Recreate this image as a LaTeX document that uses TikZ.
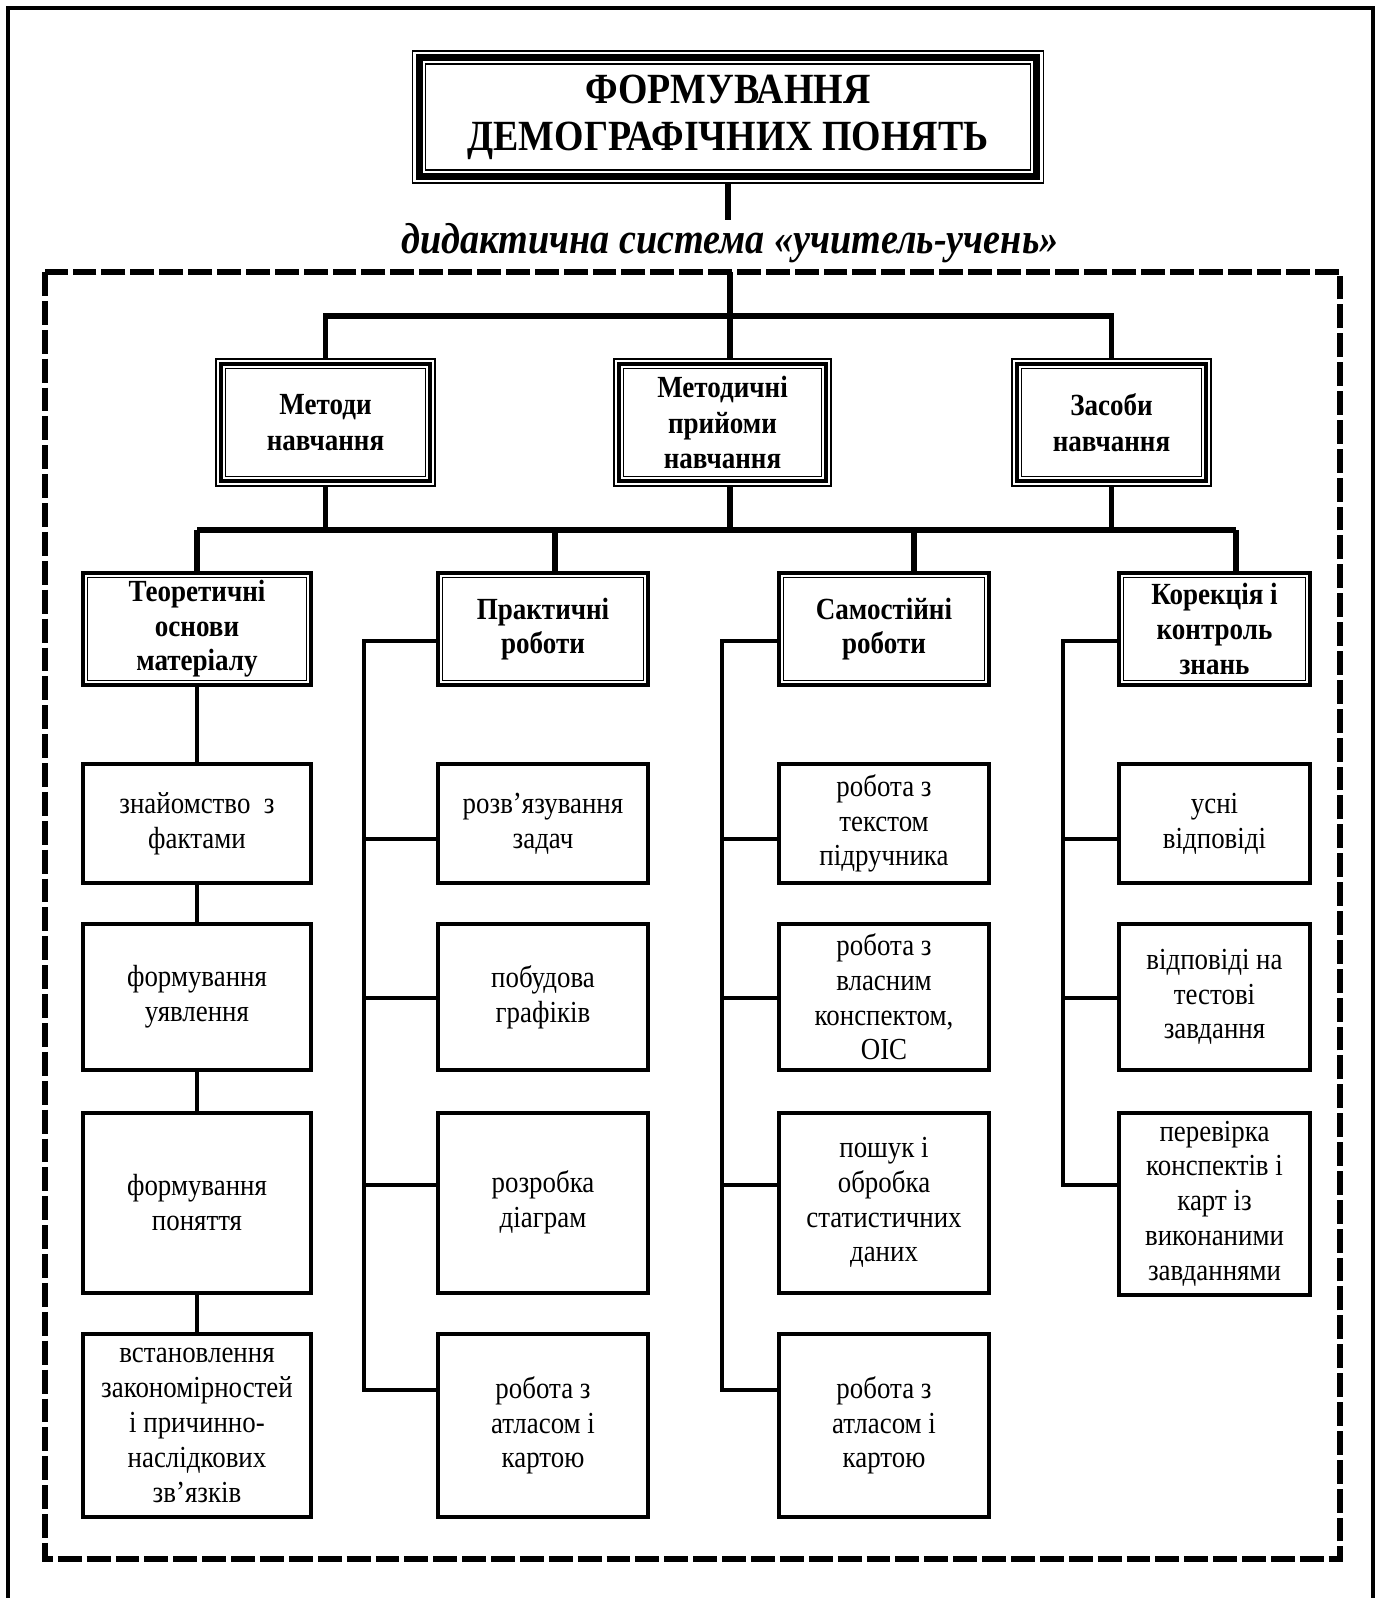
\documentclass[tikz,border=0pt]{standalone}
\usepackage{fontspec}
\setmainfont{Liberation Serif}[FakeStretch=0.88]
\usepackage{tikz}
\usetikzlibrary{calc,backgrounds}
\newcommand{\dpx}{0.02cm}
\tikzstyle{dem}=[
  x=0.02cm, y=-0.02cm
]
\tikzstyle{demnode}=[
  draw, rectangle, inner sep=0pt, align=center
]
\tikzstyle{demtitle}=[
  demnode, line width=0.85pt, font=\fontsize{24.5}{26.6}\selectfont\bfseries,
  path picture={
    \draw[line width=3.97pt] ([shift={(3.97pt,-3.97pt)}]path picture bounding box.north west)
      rectangle ([shift={(-3.97pt,3.97pt)}]path picture bounding box.south east);
    \draw[line width=0.85pt] ([shift={(7.4pt,-7.4pt)}]path picture bounding box.north west)
      rectangle ([shift={(-7.4pt,7.4pt)}]path picture bounding box.south east);
  }
]
\tikzstyle{demhead}=[
  demnode, line width=0.85pt, font=\fontsize{17.5}{20.4}\selectfont\bfseries,
  path picture={
    \draw[line width=2.27pt] ([shift={(2.84pt,-2.84pt)}]path picture bounding box.north west)
      rectangle ([shift={(-2.84pt,2.84pt)}]path picture bounding box.south east);
    \draw[line width=0.85pt] ([shift={(5.4pt,-5.4pt)}]path picture bounding box.north west)
      rectangle ([shift={(-5.4pt,5.4pt)}]path picture bounding box.south east);
  }
]
\tikzstyle{demgroup}=[
  demnode, line width=2pt, font=\fontsize{17.5}{19.7}\selectfont\bfseries,
  path picture={
    \draw[line width=0.4pt] ([shift={(2.5pt,-2.5pt)}]path picture bounding box.north west)
      rectangle ([shift={(-2.5pt,2.5pt)}]path picture bounding box.south east);
  }
]
\tikzstyle{demleaf}=[
  demnode, line width=2.27pt, font=\fontsize{17.4}{19.8}\selectfont
]
\tikzstyle{demedge}=[
  line width=2.9pt
]
\tikzstyle{demline}=[
  line width=2.27pt
]
\tikzstyle{demframe}=[
  line width=3.4pt, dash pattern=on 13.6pt off 2.84pt
]

\begin{document}
\begin{tikzpicture}[dem]
\useasboundingbox (0,0) rectangle (1381,1598);
\draw[line width=2.27pt] (8,1610) -- (8,8) -- (1373,8) -- (1373,1610);
\draw[demframe] (45,272) rectangle (1340,1559);

\node (ttl) [demtitle, minimum width=631*\dpx, minimum height=132*\dpx] at (728,117)
  {ФОРМУВАННЯ\\ДЕМОГРАФІЧНИХ ПОНЯТЬ};
\node (sys) [font=\fontsize{24.7}{30}\selectfont\bfseries\itshape] at (730,243)
  {дидактична система «учитель-учень»};

\node (mtd) [demhead, minimum width=219*\dpx, minimum height=127*\dpx] at (325.5,422.5)
  {Методи\\навчання};
\node (mpr) [demhead, minimum width=217*\dpx, minimum height=127*\dpx] at (722.5,422.5)
  {Методичні\\прийоми\\навчання};
\node (zas) [demhead, minimum width=199*\dpx, minimum height=127*\dpx] at (1111.5,422.5)
  {Засоби\\навчання};

\node (teo) [demgroup, minimum width=228*\dpx, minimum height=112*\dpx] at (197,629)
  {Теоретичні\\основи\\матеріалу};
\node (pra) [demgroup, minimum width=210*\dpx, minimum height=112*\dpx] at (543,629)
  {Практичні\\роботи};
\node (sam) [demgroup, minimum width=210*\dpx, minimum height=112*\dpx] at (884,629)
  {Самостійні\\роботи};
\node (kor) [demgroup, minimum width=191*\dpx, minimum height=112*\dpx] at (1214.5,629)
  {Корекція і\\контроль\\знань};

% theory column
\node (te1) [demleaf, minimum width=228*\dpx, minimum height=119*\dpx] at ($(teo) + (0,194.5)$)
  {знайомство~~з\\фактами};
\node (te2) [demleaf, minimum width=228*\dpx, minimum height=146*\dpx] at ($(teo) + (0,368)$)
  {формування\\уявлення};
\node (te3) [demleaf, minimum width=228*\dpx, minimum height=180*\dpx] at ($(teo) + (0,573.5)$)
  {формування\\поняття};
\node (te4) [demleaf, minimum width=228*\dpx, minimum height=183*\dpx] at ($(teo) + (0,796.5)$)
  {встановлення\\закономірностей\\і причинно-\\наслідкових\\зв’язків};

% practical column
\node (pr1) [demleaf, minimum width=210*\dpx, minimum height=119*\dpx] at ($(pra) + (0,194.5)$)
  {розв’язування\\задач};
\node (pr2) [demleaf, minimum width=210*\dpx, minimum height=146*\dpx] at ($(pra) + (0,368)$)
  {побудова\\графіків};
\node (pr3) [demleaf, minimum width=210*\dpx, minimum height=180*\dpx] at ($(pra) + (0,573.5)$)
  {розробка\\діаграм};
\node (pr4) [demleaf, minimum width=210*\dpx, minimum height=183*\dpx] at ($(pra) + (0,796.5)$)
  {робота з\\атласом і\\картою};

% self-study column
\node (sa1) [demleaf, minimum width=210*\dpx, minimum height=119*\dpx] at ($(sam) + (0,194.5)$)
  {робота з\\текстом\\підручника};
\node (sa2) [demleaf, minimum width=210*\dpx, minimum height=146*\dpx] at ($(sam) + (0,368)$)
  {робота з\\власним\\конспектом,\\ОІС};
\node (sa3) [demleaf, minimum width=210*\dpx, minimum height=180*\dpx] at ($(sam) + (0,573.5)$)
  {пошук і\\обробка\\статистичних\\даних};
\node (sa4) [demleaf, minimum width=210*\dpx, minimum height=183*\dpx] at ($(sam) + (0,796.5)$)
  {робота з\\атласом і\\картою};

% control column
\node (ko1) [demleaf, minimum width=191*\dpx, minimum height=119*\dpx] at ($(kor) + (0,194.5)$)
  {усні\\відповіді};
\node (ko2) [demleaf, minimum width=191*\dpx, minimum height=146*\dpx] at ($(kor) + (0,368)$)
  {відповіді на\\тестові\\завдання};
\node (ko3) [demleaf, minimum width=191*\dpx, minimum height=182*\dpx] at ($(kor) + (0,574.5)$)
  {перевірка\\конспектів і\\карт із\\виконаними\\завданнями};

\coordinate (dtop) at (730,272);
\coordinate (bar1) at (730,316);
\coordinate (bar2) at (730,530);
\coordinate (j1) at (197,530);
\coordinate (j2) at (555,530);
\coordinate (j3) at (914,530);
\coordinate (j4) at (1236,530);

\coordinate (s2) at (364,641);
\coordinate (s21) at (364,839);
\coordinate (s22) at (364,998);
\coordinate (s23) at (364,1185);
\coordinate (s24) at (364,1390);
\coordinate (s3) at (722,641);
\coordinate (s31) at (722,839);
\coordinate (s32) at (722,998);
\coordinate (s33) at (722,1185);
\coordinate (s34) at (722,1390);
\coordinate (s4) at (1063,641);
\coordinate (s41) at (1063,839);
\coordinate (s42) at (1063,998);
\coordinate (s43) at (1063,1185);

\begin{scope}[on background layer]
\draw [demedge] (ttl.south) -- ++(0,36);
\draw [demedge] (dtop) -- (bar1);
\draw [demedge] (mtd.north) |- (bar1) -| (zas.north);
\draw [demedge] (bar1) -- (bar1 |- mpr.north);
\draw [demedge] (mtd.south) -- (mtd.south |- j1);
\draw [demedge] (mpr.south -| bar2) -- (bar2);
\draw [demedge] (zas.south) -- (zas.south |- j4);
\draw [demedge] (j1) -- (j4);
\draw [demedge] (j1) -- (teo.north);
\draw [demedge] (j2) -- (j2 |- pra.north);
\draw [demedge] (j3) -- (j3 |- sam.north);
\draw [demedge] (j4) -- (j4 |- kor.north);

\draw [demline] (teo.south) -- (te1.north);
\draw [demline] (te1.south) -- (te2.north);
\draw [demline] (te2.south) -- (te3.north);
\draw [demline] (te3.south) -- (te4.north);

\draw [demline] (s2 -| pra.west) -- (s2) -- (s24) -- (s24 -| pr4.west);
\draw [demline] (s21) -- (s21 -| pr1.west);
\draw [demline] (s22) -- (s22 -| pr2.west);
\draw [demline] (s23) -- (s23 -| pr3.west);

\draw [demline] (s3 -| sam.west) -- (s3) -- (s34) -- (s34 -| sa4.west);
\draw [demline] (s31) -- (s31 -| sa1.west);
\draw [demline] (s32) -- (s32 -| sa2.west);
\draw [demline] (s33) -- (s33 -| sa3.west);

\draw [demline] (s4 -| kor.west) -- (s4) -- (s43) -- (s43 -| ko3.west);
\draw [demline] (s41) -- (s41 -| ko1.west);
\draw [demline] (s42) -- (s42 -| ko2.west);
\end{scope}
\end{tikzpicture}
\end{document}
